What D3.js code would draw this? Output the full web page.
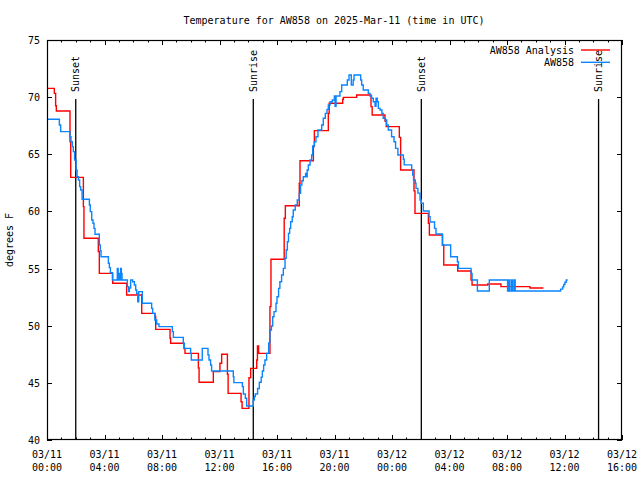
<!DOCTYPE html>
<html><head><meta charset="utf-8">
<script src="https://cdn.jsdelivr.net/npm/d3@7"></script>
<style>
body{margin:0;background:#fff}
text{font-family:"DejaVu Sans Mono","Liberation Mono",monospace;font-size:10px;fill:#000}
</style>
</head><body>
<svg id="chart" width="640" height="480"></svg>
<script>
// ---------------- data ----------------
const titleText = "Temperature for AW858 on 2025-Mar-11 (time in UTC)";
const yLabelText = "degrees F";
const seriesNames = ["AW858 Analysis", "AW858"];
const seriesColors = ["#ff0000", "#0a84ff"];
const yTicks = [40, 45, 50, 55, 60, 65, 70, 75];
const startUTC = Date.UTC(2025, 2, 11, 0, 0);
const endUTC = Date.UTC(2025, 2, 12, 16, 0);
const sunLabels = ["Sunset", "Sunrise", "Sunset", "Sunrise"];
const sunHours = [2.0, 14.35, 26.04, 38.37]; // hours after 2025-03-11 00:00 UTC

// analysis (red), hours after start and temperature (step values)
const analysisHours = [0,0.51,0.60,0.65,1.60,1.65,2.53,2.57,3.57,3.64,4.57,5.54,6.59,7.51,7.56,8.56,8.6,9.53,9.6,10.53,10.58,11.57,12.03,12.15,12.55,12.6,13.5,13.57,14.05,14.17,14.59,14.64,14.72,15.51,15.58,16.5,16.58,17.55,17.6,18.53,18.6,19.57,19.63,20.57,20.62,21.54,22.54,22.62,23.51,23.6,24.51,24.6,25.53,25.6,26.53,26.6,27.52,27.6,28.57,29.5,29.57,30.66,31.58,33.6,34.53];
const analysisTemps = [70.77,70.33,69.25,68.79,66.1,62.98,60.42,57.65,56.5,54.58,53.71,52.69,51.08,50.8,49.68,48.9,48.46,48.0,47.58,46.3,45.05,45.98,46.71,47.5,45.75,44.08,43.35,42.77,45.45,46.27,47.0,48.23,47.58,51.67,55.81,59.4,60.5,62.46,64.44,65.67,67.07,68.58,69.46,69.81,69.98,70.19,69.17,68.44,67.9,67.42,66.48,63.63,61.8,59.83,58.96,57.94,57.06,55.31,54.79,54.0,53.56,53.65,53.42,53.3,53.3];

// observations (blue)
const obsHours = [0,0.86,0.95,1.6,1.67,1.76,1.83,1.92,2.02,2.09,2.18,2.27,2.34,2.44,2.95,3.01,3.11,3.2,3.27,3.34,3.64,3.71,3.76,4.27,4.34,4.41,4.55,4.89,4.95,5.0,5.07,5.12,5.17,5.22,5.59,5.68,5.73,5.82,5.96,6.08,6.17,6.24,6.31,6.38,6.63,7.28,7.35,7.5,7.63,7.79,8.72,8.79,9.48,9.55,9.99,10.04,10.8,11.2,11.27,11.38,11.45,12.96,13.0,13.59,13.66,13.8,13.89,14.35,14.42,14.49,14.65,14.77,14.9,14.98,15.07,15.16,15.28,15.42,15.51,15.61,15.7,15.79,15.93,16.0,16.11,16.2,16.32,16.44,16.56,16.64,16.72,16.8,16.88,16.95,17.06,17.13,17.27,17.41,17.55,17.64,17.73,17.83,17.99,18.05,18.1,18.18,18.3,18.41,18.48,18.6,18.71,18.85,19.11,19.22,19.36,19.48,19.57,19.69,19.85,19.99,20.04,20.11,20.38,20.5,20.89,21.01,21.17,21.3,21.36,21.82,21.89,22.0,22.24,22.35,22.47,22.58,22.7,22.82,22.89,22.98,23.05,23.17,23.3,23.39,23.54,23.63,23.74,23.97,24.14,24.25,24.41,24.79,24.85,25.37,25.44,25.5,25.62,25.67,25.8,25.95,26.04,26.18,26.58,26.65,26.96,27.06,27.5,28.08,28.55,28.62,29.5,29.57,29.94,30.77,32.04,32.14,32.2,32.32,32.39,32.5,32.57,35.73,35.87,35.95,36.03,36.12,36.22];
const obsTemps = [68.06,67.56,66.98,66.54,66.1,65.67,65.23,64.5,63.63,63.04,62.75,62.17,61.88,61.06,60.56,59.98,59.25,58.96,58.52,58.0,57.06,56.57,56.04,55.46,55.08,54.64,54.0,55.02,54.0,54.58,54.0,55.02,54.58,54.0,53.42,52.98,53.3,54.0,53.85,53.56,53.12,52.83,52.1,52.98,51.96,51.52,51.08,50.5,50.15,49.92,49.48,48.98,48.46,48.02,47.58,47.0,48.02,47.44,47.0,46.56,46.04,45.54,45.02,44.67,44.03,43.65,42.98,43.5,43.8,44.03,44.5,45.05,45.5,46.04,46.56,47.0,47.58,48.5,49.63,49.98,50.79,51.23,51.96,52.54,53.27,53.85,54.44,55.02,55.9,56.63,57.35,58.08,58.52,59.1,59.54,60.13,60.56,61.0,61.58,62.31,62.69,63.04,63.33,63.04,63.62,64.06,64.5,64.94,65.73,66.1,66.54,67.13,67.56,68.15,68.58,68.93,69.31,69.6,69.75,70.1,69.2,70.1,70.48,71.06,71.5,71.94,71.06,71.5,71.94,71.5,71.06,70.63,70.63,70.33,70.1,69.9,69.6,69.2,69.9,69.6,69.02,68.87,68.58,68.15,68.0,67.56,67.13,66.54,66.1,65.52,64.94,64.56,64.07,63.63,63.19,62.75,62.46,62.02,61.6,61.0,60.71,60.04,59.54,59.07,58.52,58.02,57.06,56.04,55.6,55.02,54.58,54.0,53.04,54.0,53.04,54.0,53.04,54.0,53.04,54.0,53.04,53.2,53.4,53.6,53.8,54.0,54.0];

// ---------------- chart ----------------
const svg = d3.select("#chart");
const W = 640, H = 480;
const m = {left: 47, right: 622, top: 40, bottom: 440};
const HOUR = 3600000;
const toDate = h => new Date(startUTC + h * HOUR);

const x = d3.scaleUtc().domain([new Date(startUTC), new Date(endUTC)]).range([m.left, m.right]);
const y = d3.scaleLinear().domain([40, 75]).range([m.bottom, m.top]);

svg.append("rect").attr("width", W).attr("height", H).attr("fill", "#fff");

// title
svg.append("text").attr("x", 334).attr("y", 23.5).attr("text-anchor", "middle").text(titleText);

// y label
svg.append("text").attr("transform", "translate(13,240) rotate(-90)")
  .attr("text-anchor", "middle").text(yLabelText);

// ticks
const majorTicks = d3.utcHour.every(4).range(new Date(startUTC), new Date(endUTC + 1));
const minorTicks = d3.utcHour.every(1).range(new Date(startUTC), new Date(endUTC + 1));

const tickG = svg.append("g").attr("stroke", "#000").attr("stroke-width", 1);
minorTicks.forEach(d => {
  const px = Math.round(x(d)) + 0.5;
  const major = d.getUTCHours() % 4 === 0;
  const len = major ? 5 : 2.5;
  tickG.append("line").attr("x1", px).attr("x2", px).attr("y1", m.bottom).attr("y2", m.bottom - len);
  tickG.append("line").attr("x1", px).attr("x2", px).attr("y1", m.top).attr("y2", m.top + len);
});
yTicks.forEach(v => {
  const py = Math.round(y(v)) + 0.5;
  tickG.append("line").attr("x1", m.left).attr("x2", m.left + 5).attr("y1", py).attr("y2", py);
  tickG.append("line").attr("x1", m.right).attr("x2", m.right - 5).attr("y1", py).attr("y2", py);
});

// y tick labels via axis scale
svg.append("g").selectAll("text").data(yTicks).join("text")
  .attr("x", 40).attr("y", d => y(d) + 4).attr("text-anchor", "end").text(d => d);

// x tick labels
const fmtDay = d3.utcFormat("%m/%d"), fmtHour = d3.utcFormat("%H:%M");
const xl = svg.append("g").selectAll("text").data(majorTicks).join("text")
  .attr("text-anchor", "middle");
xl.append("tspan").attr("x", d => x(d)).attr("y", 457.5).text(d => fmtDay(d));
xl.append("tspan").attr("x", d => x(d)).attr("y", 471).text(d => fmtHour(d));

// sunrise / sunset lines
sunHours.forEach((h, i) => {
  const px = x(toDate(h));
  svg.append("line").attr("x1", px).attr("x2", px).attr("y1", 99).attr("y2", m.bottom)
    .attr("stroke", "#000").attr("stroke-width", 1.3);
  svg.append("text").attr("transform", `translate(${px},92) rotate(-90)`)
    .attr("dy", "0.35em").attr("text-anchor", "start").text(sunLabels[i]);
});

// data lines
svg.append("defs").append("clipPath").attr("id", "clip").append("rect")
  .attr("x", m.left).attr("y", m.top).attr("width", m.right - m.left).attr("height", m.bottom - m.top);

const line = d3.line().x(d => x(d[0])).y(d => y(d[1])).curve(d3.curveStepAfter);
const analysis = analysisHours.map((h, i) => [toDate(h), analysisTemps[i]]);
const obs = obsHours.map((h, i) => [toDate(h), obsTemps[i]]);

const dataG = svg.append("g").attr("clip-path", "url(#clip)");
dataG.append("path").datum(analysis).attr("d", line).attr("fill", "none")
  .attr("stroke", seriesColors[0]).attr("stroke-width", 1.4);
dataG.append("path").datum(obs).attr("d", line).attr("fill", "none")
  .attr("stroke", seriesColors[1]).attr("stroke-width", 1.4);

// frame
svg.append("rect").attr("x", m.left + 0.5).attr("y", m.top + 0.5)
  .attr("width", m.right - m.left - 1).attr("height", m.bottom - m.top - 1)
  .attr("fill", "none").attr("stroke", "#000").attr("stroke-width", 1.2);

// legend
const legY = [50, 62.3];
seriesNames.forEach((name, i) => {
  svg.append("text").attr("x", 574).attr("y", legY[i] + 4).attr("text-anchor", "end").text(name);
  svg.append("line").attr("x1", 581).attr("x2", 610).attr("y1", legY[i]).attr("y2", legY[i])
    .attr("stroke", seriesColors[i]).attr("stroke-width", 1.4);
});
</script>
</body></html>
